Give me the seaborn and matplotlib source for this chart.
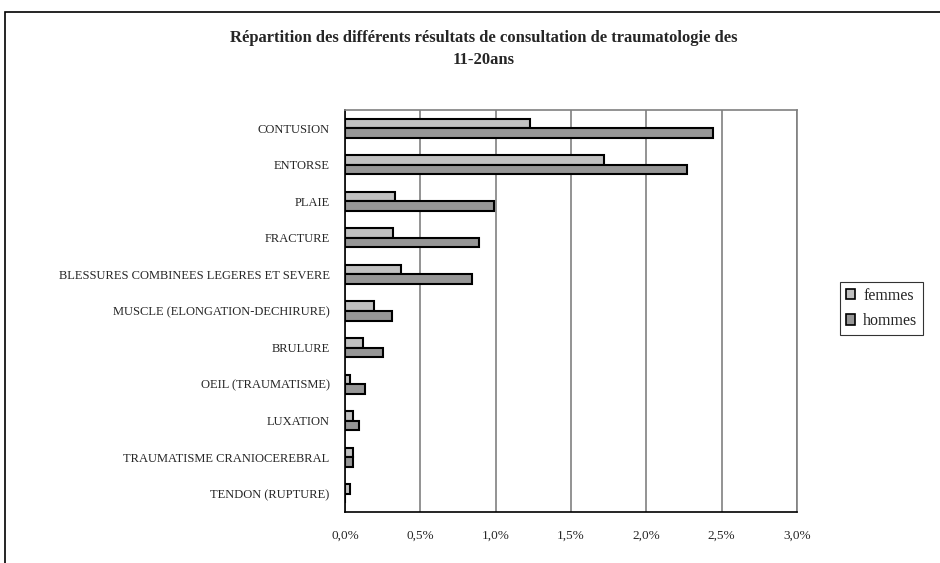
import matplotlib
matplotlib.use('Agg')
import matplotlib.pyplot as plt
import matplotlib.patches as mpatches
import pandas as pd
import seaborn as sns

# Données (en % des consultations)
categories = [
    "CONTUSION",
    "ENTORSE",
    "PLAIE",
    "FRACTURE",
    "BLESSURES COMBINEES LEGERES ET SEVERE",
    "MUSCLE (ELONGATION-DECHIRURE)",
    "BRULURE",
    "OEIL (TRAUMATISME)",
    "LUXATION",
    "TRAUMATISME CRANIOCEREBRAL",
    "TENDON (RUPTURE)",
]
femmes = [1.23, 1.72, 0.33, 0.32, 0.37, 0.19, 0.12, 0.03, 0.05, 0.05, 0.03]
hommes = [2.44, 2.27, 0.99, 0.89, 0.84, 0.31, 0.25, 0.13, 0.09, 0.05, 0.0]
xticks = [0.0, 0.5, 1.0, 1.5, 2.0, 2.5, 3.0]
xtick_labels = ["0,0%", "0,5%", "1,0%", "1,5%", "2,0%", "2,5%", "3,0%"]

df = pd.DataFrame({
    "categorie": categories * 2,
    "valeur": femmes + hommes,
    "sexe": ["femmes"] * len(categories) + ["hommes"] * len(categories),
})

sns.set_style("white")
plt.rcParams['font.family'] = ['Liberation Serif', 'DejaVu Serif']

fig = plt.figure(figsize=(9.4, 5.63), dpi=100)
ax = fig.add_axes([345 / 940, 1 - 512 / 563, 452 / 940, 402 / 563])

sns.barplot(
    data=df, x="valeur", y="categorie", hue="sexe", orient="h",
    palette={"femmes": "#c0c0c0", "hommes": "#969696"},
    width=0.52, edgecolor="black", linewidth=1.5, ax=ax, legend=False,
)

ax.set_xlim(0, 3.0)
ax.set_ylim(len(categories) - 0.5, -0.5)
ax.set_xticks(xticks)
ax.set_xticklabels(xtick_labels, fontsize=9.5)
ax.set_yticks(range(len(categories)))
ax.set_yticklabels(categories, fontsize=9)
ax.tick_params(axis='y', length=0, pad=11)
ax.tick_params(axis='x', length=3, width=1, color='black', direction='out', pad=10)
# petites graduations entre catégories
ax.set_yticks([i + 0.5 for i in range(-1, len(categories))], minor=True)
ax.tick_params(axis='y', which='minor', length=4, width=1, color='black', direction='out')
ax.set_xlabel("")
ax.set_ylabel("")

ax.grid(axis='x', color='#808080', linewidth=1.2)
ax.set_axisbelow(True)
for side in ['top', 'right']:
    ax.spines[side].set_color('#808080')
    ax.spines[side].set_linewidth(1.2)
for side in ['left', 'bottom']:
    ax.spines[side].set_color('black')
    ax.spines[side].set_linewidth(1.2)

fig.text(484 / 940, 1 - 38 / 563,
         "Répartition des différents résultats de consultation de traumatologie des",
         ha='center', va='center', fontsize=12, fontweight='bold')
fig.text(484 / 940, 1 - 60 / 563, "11-20ans",
         ha='center', va='center', fontsize=12, fontweight='bold')

# cadre de la zone graphique
fig.patches.append(mpatches.Rectangle(
    (5 / 940, -0.1), 1.2, 1 - 12 / 563 + 0.1, transform=fig.transFigure,
    fill=False, edgecolor='black', linewidth=1.2))

handles = [
    mpatches.Patch(facecolor="#c0c0c0", edgecolor="black", linewidth=1.2, label="femmes"),
    mpatches.Patch(facecolor="#969696", edgecolor="black", linewidth=1.2, label="hommes"),
]
leg = fig.legend(handles=handles, loc='upper left',
                 bbox_to_anchor=(840 / 940, 1 - 282 / 563),
                 fontsize=11.5, frameon=True, fancybox=False,
                 handlelength=0.6, handleheight=0.6, handletextpad=0.5,
                 borderpad=0.35, labelspacing=0.6, borderaxespad=0)
leg.get_frame().set_edgecolor('black')
leg.get_frame().set_linewidth(0.8)

fig.savefig("out.png", dpi=100)
plt.close(fig)
